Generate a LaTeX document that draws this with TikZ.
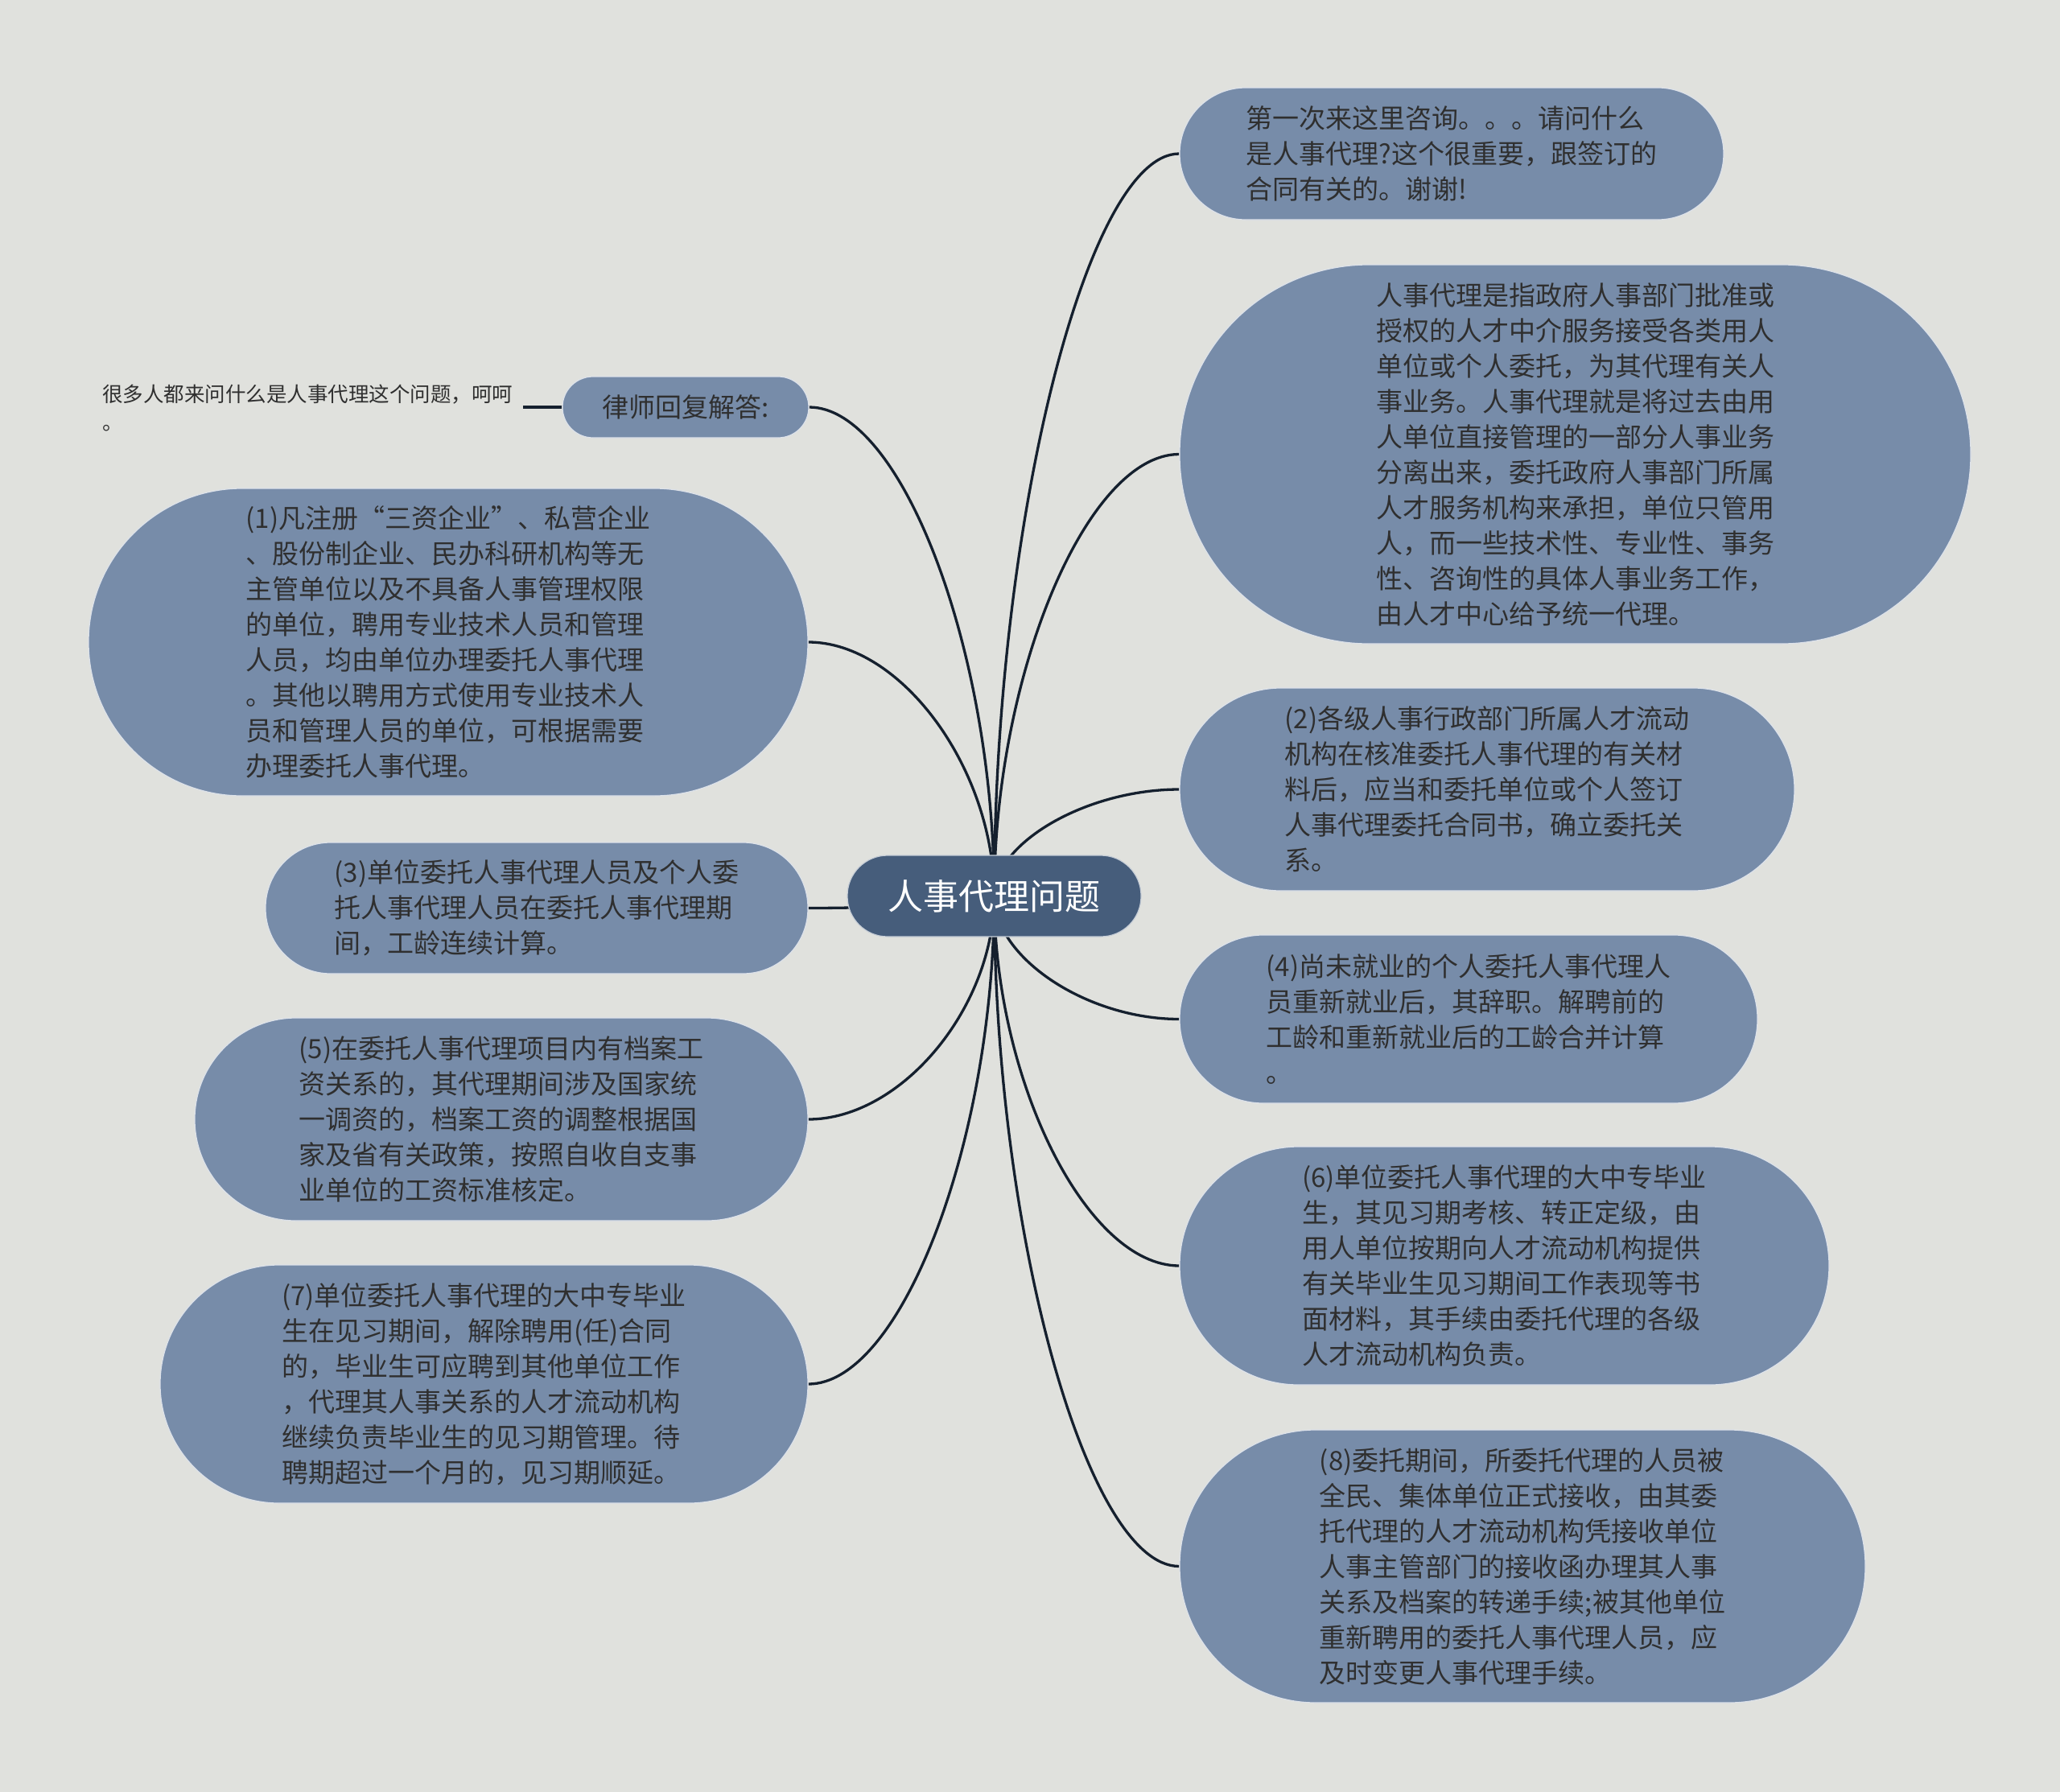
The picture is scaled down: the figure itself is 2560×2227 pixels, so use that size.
\documentclass[tikz,border=0pt]{standalone}
\usepackage{fontspec}
\setmainfont{Noto Sans CJK SC}
\usetikzlibrary{calc}
\definecolor{bgcol}{HTML}{E0E1DD}
\definecolor{boxfill}{HTML}{778CA9}
\definecolor{rootfill}{HTML}{465D7B}
\definecolor{txtcol}{HTML}{2F2F2F}
\definecolor{linkcol}{HTML}{15202E}
\pgfdeclarelayer{bglayer}
\pgfdeclarelayer{linklayer}
\pgfsetlayers{bglayer,linklayer,main}
\newcommand\linkto[2]{%
  \draw[linkline] (#1.center) .. controls ($(#1.center)!0.5!(#1.center |- #2)$) and ($(#2)!0.5!(#1.center |- #2)$) .. (#2);}
\begin{document}
\begin{tikzpicture}[x=1pt,y=-1pt,
  box/.style={rectangle, fill=boxfill, draw=white!75!boxfill, line width=1.2pt,
    text=txtcol, align=left, inner sep=0pt, font=\fontsize{33}{44}\selectfont},
  rootbox/.style={rectangle, fill=rootfill, draw=white!70!rootfill, line width=1.2pt,
    text=white, inner sep=0pt, font=\fontsize{44}{52}\selectfont,
    minimum width=365pt, minimum height=101pt, rounded corners=50pt},
  note/.style={text=txtcol, align=left, inner sep=0pt, font=\fontsize{25.5}{35}\selectfont},
  linkline/.style={draw=linkcol, line width=3.3pt},
]
\begin{pgfonlayer}{bglayer}
\fill[bgcol] (0,0) rectangle (2560,2227);
\end{pgfonlayer}
\useasboundingbox (0,0) rectangle (2560,2227);

% root
\node[rootbox] (root) at (1235.5,1113.5) {人事代理问题};

% right side
\node[box, minimum width=676pt, minimum height=164pt, rounded corners=82pt] (q) at (1804,191)
 {第一次来这里咨询。。。请问什么\\是人事代理?这个很重要，跟签订的\\合同有关的。谢谢!};
\node[box, minimum width=983pt, minimum height=471pt, rounded corners=235pt] (def) at (1957.5,564.5)
 {人事代理是指政府人事部门批准或\\授权的人才中介服务接受各类用人\\单位或个人委托，为其代理有关人\\事业务。人事代理就是将过去由用\\人单位直接管理的一部分人事业务\\分离出来，委托政府人事部门所属\\人才服务机构来承担，单位只管用\\人，而一些技术性、专业性、事务\\性、咨询性的具体人事业务工作，\\由人才中心给予统一代理。};
\node[box, minimum width=764pt, minimum height=252pt, rounded corners=126pt] (n2) at (1848,981)
 {(2)各级人事行政部门所属人才流动\\机构在核准委托人事代理的有关材\\料后，应当和委托单位或个人签订\\人事代理委托合同书，确立委托关\\系。};
\node[box, minimum width=718pt, minimum height=209pt, rounded corners=104pt] (n4) at (1825,1266.5)
 {(4)尚未就业的个人委托人事代理人\\员重新就业后，其辞职。解聘前的\\工龄和重新就业后的工龄合并计算\\。};
\node[box, minimum width=807pt, minimum height=296pt, rounded corners=148pt] (n6) at (1869.5,1573)
 {(6)单位委托人事代理的大中专毕业\\生，其见习期考核、转正定级，由\\用人单位按期向人才流动机构提供\\有关毕业生见习期间工作表现等书\\面材料，其手续由委托代理的各级\\人才流动机构负责。};
\node[box, minimum width=852pt, minimum height=339pt, rounded corners=169pt] (n8) at (1892,1946.5)
 {(8)委托期间，所委托代理的人员被\\全民、集体单位正式接收，由其委\\托代理的人才流动机构凭接收单位\\人事主管部门的接收函办理其人事\\关系及档案的转递手续;被其他单位\\重新聘用的委托人事代理人员，应\\及时变更人事代理手续。};

% left side
\node[box, minimum width=306pt, minimum height=76pt, rounded corners=38pt] (law) at (852,506)
 {律师回复解答:};
\node[note, anchor=west] (ann) at (127,507)
 {很多人都来问什么是人事代理这个问题，呵呵\\。};
\node[box, minimum width=894pt, minimum height=382pt, rounded corners=191pt] (n1) at (557,798)
 {(1)凡注册“三资企业”、私营企业\\、股份制企业、民办科研机构等无\\主管单位以及不具备人事管理权限\\的单位，聘用专业技术人员和管理\\人员，均由单位办理委托人事代理\\。其他以聘用方式使用专业技术人\\员和管理人员的单位，可根据需要\\办理委托人事代理。};
\node[box, minimum width=674pt, minimum height=163pt, rounded corners=81pt] (n3) at (667,1128.5)
 {(3)单位委托人事代理人员及个人委\\托人事代理人员在委托人事代理期\\间，工龄连续计算。};
\node[box, minimum width=762pt, minimum height=252pt, rounded corners=126pt] (n5) at (623,1391)
 {(5)在委托人事代理项目内有档案工\\资关系的，其代理期间涉及国家统\\一调资的，档案工资的调整根据国\\家及省有关政策，按照自收自支事\\业单位的工资标准核定。};
\node[box, minimum width=805pt, minimum height=296pt, rounded corners=148pt] (n7) at (601.5,1720)
 {(7)单位委托人事代理的大中专毕业\\生在见习期间，解除聘用(任)合同\\的，毕业生可应聘到其他单位工作\\，代理其人事关系的人才流动机构\\继续负责毕业生的见习期管理。待\\聘期超过一个月的，见习期顺延。};

\begin{pgfonlayer}{linklayer}
\linkto{root}{q.west}
\linkto{root}{def.west}
\linkto{root}{n2.west}
\linkto{root}{n4.west}
\linkto{root}{n6.west}
\linkto{root}{n8.west}
\linkto{root}{law.east}
\linkto{root}{n1.east}
\linkto{root}{n3.east}
\linkto{root}{n5.east}
\linkto{root}{n7.east}
\draw[linkline, shorten <=13pt] (ann.east |- law.west) -- (law.west);
\end{pgfonlayer}
\end{tikzpicture}
\end{document}
